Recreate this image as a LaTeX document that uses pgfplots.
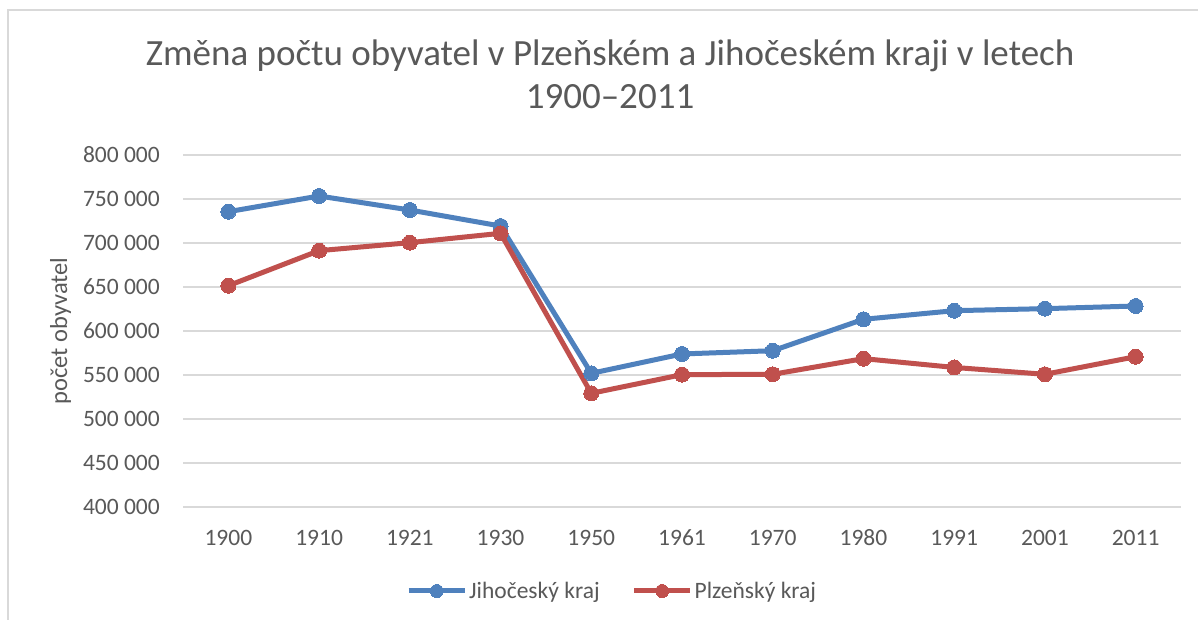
\documentclass[border=0pt]{standalone}
\usepackage{pgfplots}
\pgfplotsset{compat=1.18}
\usepackage{fontspec}
\setmainfont{Carlito}
\definecolor{blueS}{HTML}{4F81BD}
\definecolor{redS}{HTML}{C0504D}
\definecolor{textc}{HTML}{595959}
\definecolor{gridc}{HTML}{D9D9D9}
\begin{document}
\begin{tikzpicture}[x=1pt,y=1pt]
\useasboundingbox (0,0) rectangle (1198,-620);
\fill[white] (0,0) rectangle (1198,-620);
\draw[gridc, line width=1.5pt] (8,-620) -- (8,-10) -- (1198,-10);
\node[anchor=base, text=textc, font=\fontsize{37}{43}\selectfont] at (610,-66) {Změna počtu obyvatel v Plzeňském a Jihočeském kraji v letech};
\node[anchor=base, text=textc, font=\fontsize{37}{43}\selectfont] at (610,-109) {1900–2011};
\node[anchor=base, rotate=90, text=textc, font=\fontsize{24.5}{28}\selectfont] at (67,-331) {počet obyvatel};
\begin{axis}[
  at={(183pt,-507pt)}, anchor=south west,
  scale only axis, width=998pt, height=352pt,
  xmin=-0.5, xmax=10.5, ymin=400000, ymax=800000,
  scaled ticks=false,
  xtick={0,...,10},
  xticklabels={1900,1910,1921,1930,1950,1961,1970,1980,1991,2001,2011},
  ytick={400000,450000,500000,550000,600000,650000,700000,750000,800000},
  yticklabels={400 000,450 000,500 000,550 000,600 000,650 000,700 000,750 000,800 000},
  axis line style={draw=none},
  major tick length=0pt,
  ymajorgrids,
  grid style={gridc, line width=1.5pt},
  tick label style={font=\fontsize{23.5}{28}\selectfont, text=textc, inner sep=0pt},
  yticklabel style={anchor=base east, xshift=-23pt, yshift=-7.5pt},
  xticklabel style={anchor=base, yshift=-38pt},
  clip=false,
  legend columns=2,
  legend style={at={(0.43,-0.2386)}, anchor=center, draw=none, fill=none,
    font=\fontsize{23.5}{28}\selectfont, text=textc,
    /tikz/every even column/.append style={column sep=30pt},
    nodes={inner sep=2pt}},
  legend image code/.code={\draw[#1, mark repeat=2, mark phase=2, mark size=6.5pt] plot coordinates {(0pt,0pt) (28pt,0pt) (56pt,0pt)};},
]
\addplot[blueS, line width=5pt, mark=*, mark size=7.5pt, mark options={line width=0pt}] coordinates {
(0,735600) (1,753400) (2,737500) (3,719300) (4,551900) (5,573900) (6,577600) (7,613300) (8,623100) (9,625400) (10,628400)};
\addlegendentry{Jihočeský kraj}
\addplot[redS, line width=5pt, mark=*, mark size=7.5pt, mark options={line width=0pt}] coordinates {
(0,651500) (1,691300) (2,700400) (3,711000) (4,529200) (5,550400) (6,550800) (7,568600) (8,558600) (9,550800) (10,570800)};
\addlegendentry{Plzeňský kraj}
\end{axis}
\end{tikzpicture}
\end{document}
